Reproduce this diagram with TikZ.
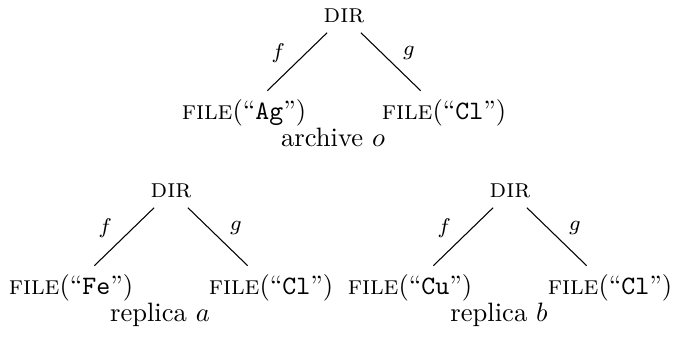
\documentclass[tikz,border=0pt]{standalone}

\begin{document}
\begin{tikzpicture}[x=0.376pt, y=-0.376pt,
        every node/.style={anchor=base},
        lab/.style={font=\footnotesize, anchor=center}]
    \useasboundingbox (0,0) rectangle (675,337);
    \foreach \t/\cx/\by/\nm/\cap in {o/344/23/Ag/archive $o$, a/171/198/Fe/replica $a$, b/510/198/Cu/replica $b$}{
        \node (dir\t) at (\cx,\by) {\textsc{dir}};
        \node (lf\t) at (\cx-100,\by+97) {\textsc{file}(``\texttt{\nm}'')};
        \node (rt\t) at (\cx+100,\by+97) {\textsc{file}(``\texttt{Cl}'')};
        \node (cap\t) at (\cx-11,\by+124) {\cap};
        \draw (dir\t) -- node[lab, pos=.35, left=4.5pt] {$f$} (lf\t);
        \draw (dir\t) -- node[lab, pos=.35, right=4.5pt] {$g$} (rt\t);
    }
\end{tikzpicture}
\end{document}
